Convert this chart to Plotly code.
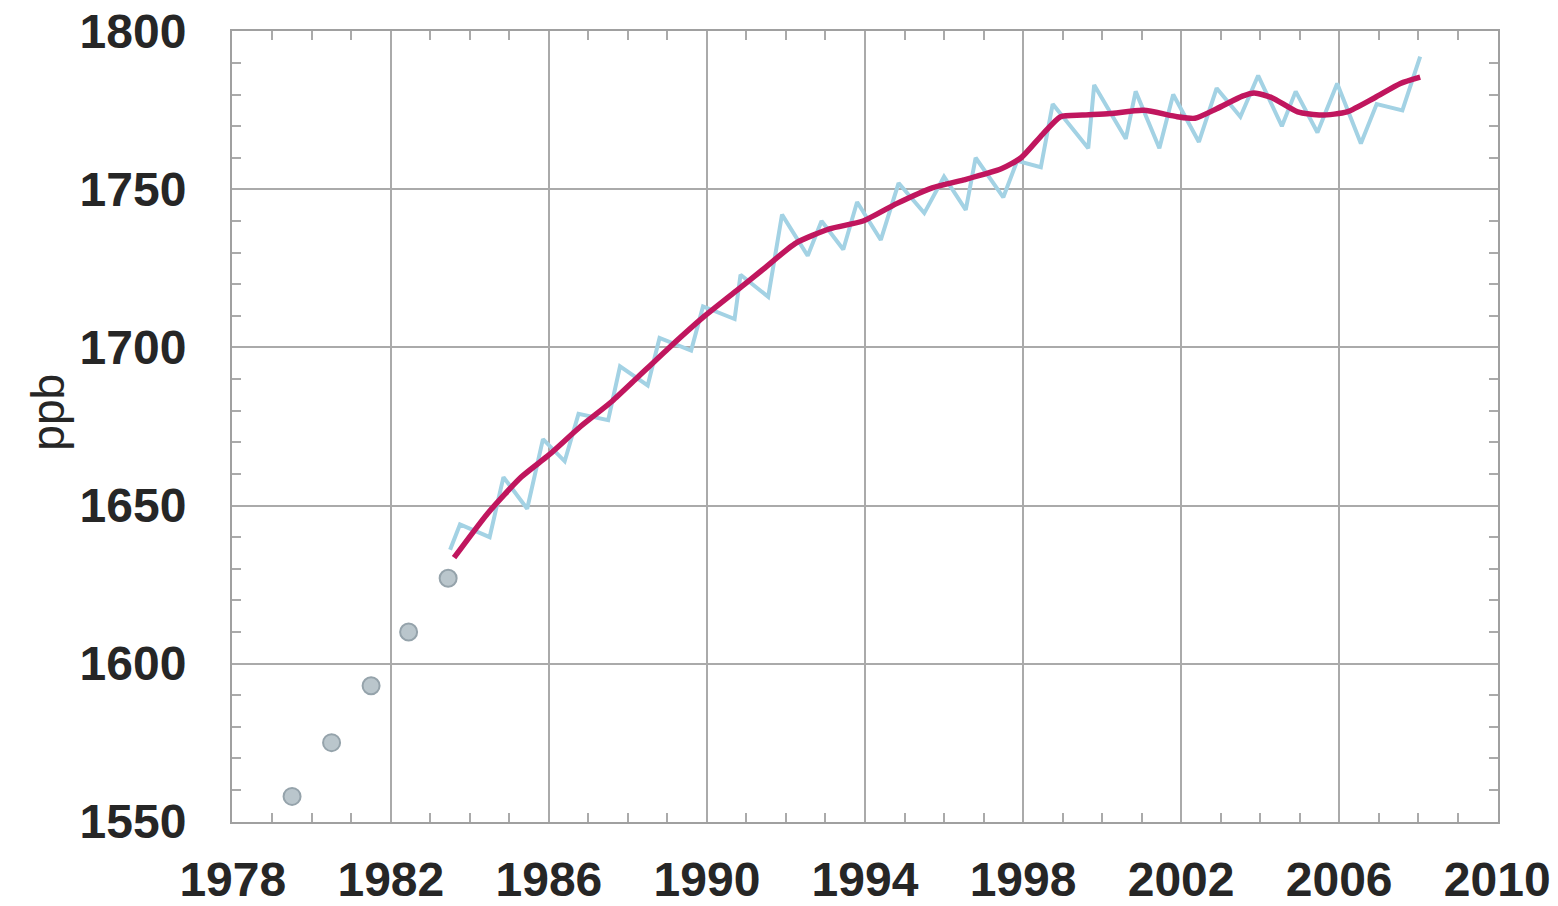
import plotly.graph_objects as go

# annual means before the monthly record starts
dot_years = [1979.5, 1980.5, 1981.5, 1982.45, 1983.45]
dot_ppb = [1558, 1575, 1593, 1610, 1627]

# monthly record (peaks and troughs)
monthly_years = [1983.5, 1983.75, 1984.5, 1984.85, 1985.45, 1985.85, 1986.4, 1986.75,
                 1987.5, 1987.8, 1988.5, 1988.8, 1989.6, 1989.9, 1990.7, 1990.85,
                 1991.55, 1991.9, 1992.55, 1992.9, 1993.45, 1993.8, 1994.4, 1994.85,
                 1995.5, 1996.0, 1996.55, 1996.8, 1997.5, 1997.85, 1998.45, 1998.75,
                 1999.65, 1999.8, 2000.6, 2000.85, 2001.45, 2001.8, 2002.45, 2002.9,
                 2003.5, 2003.95, 2004.55, 2004.9, 2005.45, 2005.95, 2006.55, 2006.95,
                 2007.6, 2008.05]
monthly_ppb = [1636, 1644, 1640, 1659, 1649, 1671, 1664, 1679,
               1677, 1694, 1688, 1703, 1699, 1713, 1709, 1723,
               1716, 1742, 1729, 1740, 1731, 1746, 1734, 1752,
               1742.5, 1754, 1743.5, 1760, 1747.5, 1759, 1757, 1777,
               1763, 1783, 1766, 1781, 1763, 1780, 1765, 1782,
               1773, 1786, 1770, 1781, 1768, 1783.5, 1764.5, 1777,
               1775, 1792]

# deseasonalised trend
trend_years = [1983.6, 1984.45, 1985.3, 1986.0, 1986.8, 1987.6, 1988.2, 1989.05,
               1989.9, 1990.75, 1991.4, 1992.25, 1993.1, 1993.95, 1994.8, 1995.7,
               1996.5, 1997.45, 1997.95, 1998.5, 1998.95, 1999.5, 2000.2, 2001.05,
               2001.9, 2002.35, 2002.9, 2003.55, 2003.85, 2004.3, 2004.95, 2005.55,
               2006.2, 2006.9, 2007.55, 2008.05]
trend_ppb = [1633.5, 1647.5, 1659, 1666, 1675, 1683, 1690, 1700,
             1709.5, 1718, 1724.5, 1733, 1737.5, 1740, 1745.5, 1750.5,
             1753, 1756.5, 1760, 1767.5, 1773, 1773.5, 1774, 1775,
             1773, 1772.5, 1775.5, 1779.5, 1780.5, 1779, 1774.5, 1773.5,
             1774.5, 1779, 1783.5, 1785.5]

x_ticks = list(range(1978, 2011, 4))
y_ticks = [1550, 1600, 1650, 1700, 1750, 1800]

fig = go.Figure()
fig.add_trace(go.Scatter(x=dot_years, y=dot_ppb, mode='markers',
                         marker=dict(size=17, color='#bac6cc',
                                     line=dict(color='#95a3ab', width=2))))
fig.add_trace(go.Scatter(x=monthly_years, y=monthly_ppb, mode='lines',
                         line=dict(color='#a3d2e4', width=4)))
fig.add_trace(go.Scatter(x=trend_years, y=trend_ppb, mode='lines',
                         line=dict(color='#c0165e', width=5.5, shape='spline', smoothing=0.6)))

axis_font = dict(family='Liberation Sans, Arial', size=48, color='#262626', weight='bold')
grid = '#aaaaaa'
# the page body adds 8px around the figure, so the figure is 8px smaller
fig.update_layout(
    width=1550, height=898,
    margin=dict(l=224, r=60, t=23, b=84),
    paper_bgcolor='white', plot_bgcolor='white',
    showlegend=False,
    xaxis=dict(range=[1977.98, 2010.02], tickvals=x_ticks, ticktext=[str(v) for v in x_ticks],
               tickfont=axis_font, ticks='inside', ticklen=10, tickcolor=grid, tickwidth=2,
               ticklabelstandoff=14, automargin=False, ticklabeloverflow='allow',
               showgrid=True, gridcolor=grid, gridwidth=2,
               showline=True, linecolor='#a0a0a0', linewidth=2, mirror='allticks',
               zeroline=False,
               minor=dict(dtick=1, tick0=1978, ticks='inside', ticklen=9,
                          tickcolor=grid, tickwidth=1.5, showgrid=False)),
    yaxis=dict(range=[1549.9, 1800.1], tickvals=y_ticks, ticktext=[str(v) for v in y_ticks],
               tickfont=axis_font, ticks='inside', ticklen=10, tickcolor=grid, tickwidth=2,
               ticklabelstandoff=34, automargin=False, ticklabeloverflow='allow',
               showgrid=True, gridcolor=grid, gridwidth=2,
               showline=True, linecolor='#a0a0a0', linewidth=2, mirror='allticks',
               zeroline=False,
               minor=dict(dtick=10, tick0=1550, ticks='inside', ticklen=9,
                          tickcolor=grid, tickwidth=1.5, showgrid=False)),
    annotations=[dict(text='ppb', textangle=-90, xref='paper', yref='paper',
                      x=-0.145, y=0.518, xanchor='center', yanchor='middle',
                      showarrow=False,
                      font=dict(family='Liberation Sans, Arial', size=46, color='#262626'))],
)

fig.write_html("out.html")
